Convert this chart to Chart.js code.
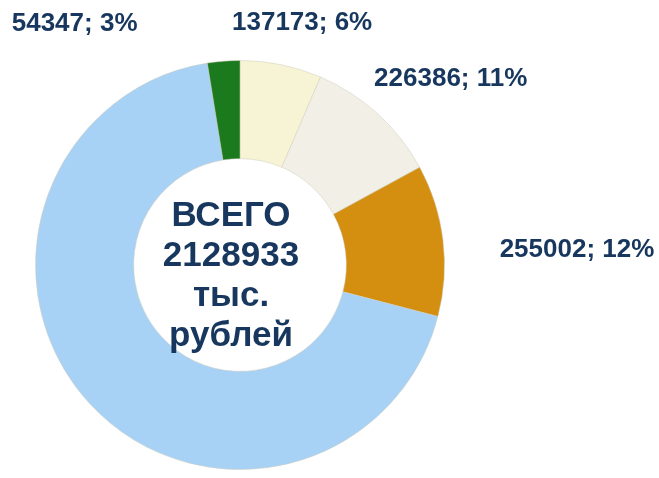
<!DOCTYPE html>
<html>
<head>
<meta charset="utf-8">
<script src="https://cdn.jsdelivr.net/npm/chart.js@4/dist/chart.umd.min.js"></script>
<style>
  html, body { margin: 0; padding: 0; background: #fff; }
</style>
</head>
<body>
<canvas id="myChart" width="659" height="478"></canvas>
<script>
// slices, clockwise from 12 o'clock
const values = [137173, 226386, 255002, 1456025, 54347];
const percents = ['6%', '11%', '12%', '', '3%'];
const colors = ['#F6F4D4', '#F2EFE6', '#D48E10', '#A7D2F5', '#1C7A1E'];
const centerLines = ['ВСЕГО', '2128933', 'тыс.', 'рублей'];
// label offset from the outer edge of each slice, in px
const labelShift = [[21, -42], [73, -35], [134, 10], null, [-149, -37]];

const textColor = '#17375E';

const sliceLabels = {
  id: 'sliceLabels',
  afterDatasetsDraw(chart) {
    const { ctx } = chart;
    const arcs = chart.getDatasetMeta(0).data;
    ctx.save();
    ctx.font = 'bold 26px "Liberation Sans", Arial, sans-serif';
    ctx.fillStyle = textColor;
    ctx.textAlign = 'center';
    ctx.textBaseline = 'middle';
    arcs.forEach((arc, i) => {
      if (!labelShift[i]) return;
      const mid = (arc.startAngle + arc.endAngle) / 2;
      const x = arc.x + Math.cos(mid) * arc.outerRadius + labelShift[i][0];
      const y = arc.y + Math.sin(mid) * arc.outerRadius + labelShift[i][1];
      ctx.fillText(values[i] + '; ' + percents[i], x, y);
    });

    // text in the hole
    const a = arcs[0];
    ctx.font = 'bold 35px "Liberation Sans", Arial, sans-serif';
    const lh = 40;
    const y0 = a.y + 11 - lh * (centerLines.length - 1) / 2;
    centerLines.forEach((t, i) => ctx.fillText(t, a.x - 9, y0 + i * lh));
    ctx.restore();
  }
};

const ctx = document.getElementById('myChart').getContext('2d');
const myChart = new Chart(ctx, {
  type: 'doughnut',
  data: {
    labels: values.map(String),
    datasets: [{
      data: values,
      backgroundColor: colors,
      borderColor: 'rgba(210,205,190,0.5)',
      borderWidth: 1
    }]
  },
  options: {
    responsive: false,
    animation: false,
    cutout: '52%',
    layout: { padding: { left: 35, right: 214, top: 60, bottom: 8 } },
    plugins: {
      legend: { display: false },
      tooltip: { enabled: false }
    }
  },
  plugins: [sliceLabels]
});
</script>
</body>
</html>
